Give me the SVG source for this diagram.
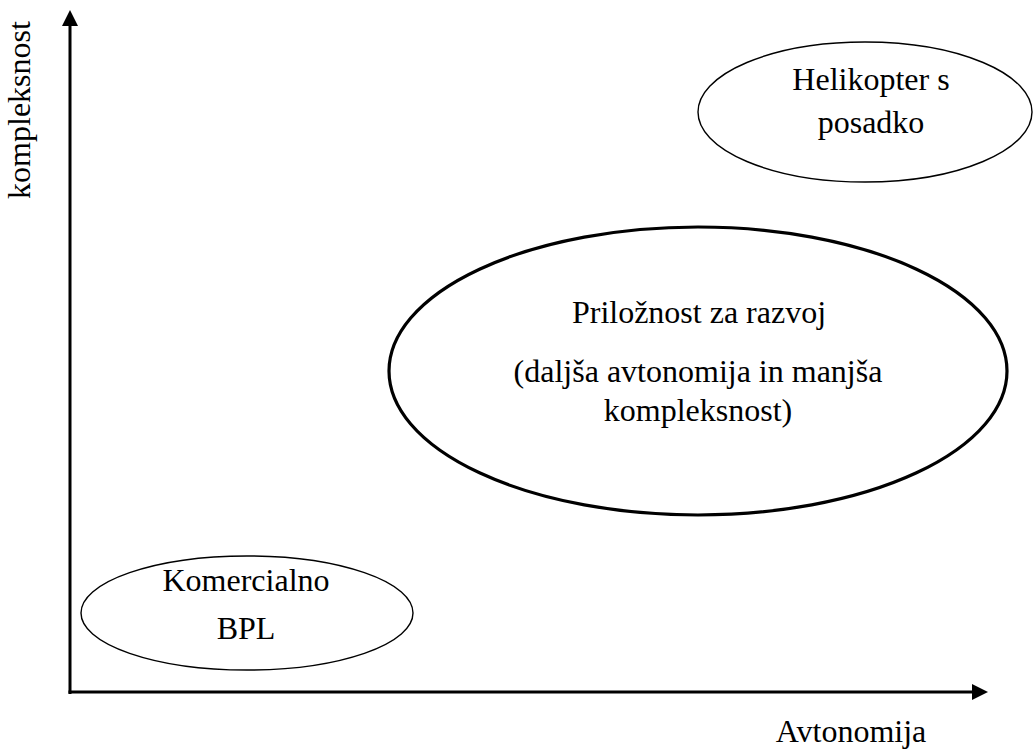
<svg xmlns="http://www.w3.org/2000/svg" width="1033" height="749" viewBox="0 0 1033 749">
<style>
text{font-family:"Liberation Serif","Times New Roman",serif;font-size:32px;fill:#000;text-anchor:middle}
.thin{fill:#fff;stroke:#000;stroke-width:1.4}
.thick{fill:#fff;stroke:#000;stroke-width:3.2}
.axis{stroke:#000;stroke-width:3;fill:none}
</style>
<rect width="1033" height="749" fill="#fff"/>
<g id="connectors">
<line class="axis" x1="70" y1="694" x2="70" y2="24"/>
<polygon points="70,10 62,26 78,26" fill="#000"/>
<line class="axis" x1="68.5" y1="692" x2="974" y2="692"/>
<polygon points="988,692 972,684 972,700" fill="#000"/>
</g>
<g id="label-y"><text transform="translate(30,110) rotate(-90)">kompleksnost</text></g>
<g id="label-x"><text x="851" y="742">Avtonomija</text></g>
<g id="node-helikopter">
<ellipse class="thin" cx="865" cy="112" rx="167" ry="70"/>
<text x="871" y="90">Helikopter s</text>
<text x="871" y="133">posadko</text>
</g>
<g id="node-priloznost">
<ellipse class="thick" cx="698" cy="371" rx="309" ry="144"/>
<text x="699" y="323">Priložnost za razvoj</text>
<text x="698" y="382">(daljša avtonomija in manjša</text>
<text x="698" y="421">kompleksnost)</text>
</g>
<g id="node-komercialno">
<ellipse class="thin" cx="247" cy="613" rx="166" ry="57"/>
<text x="246" y="591">Komercialno</text>
<text x="246" y="639">BPL</text>
</g>
</svg>
